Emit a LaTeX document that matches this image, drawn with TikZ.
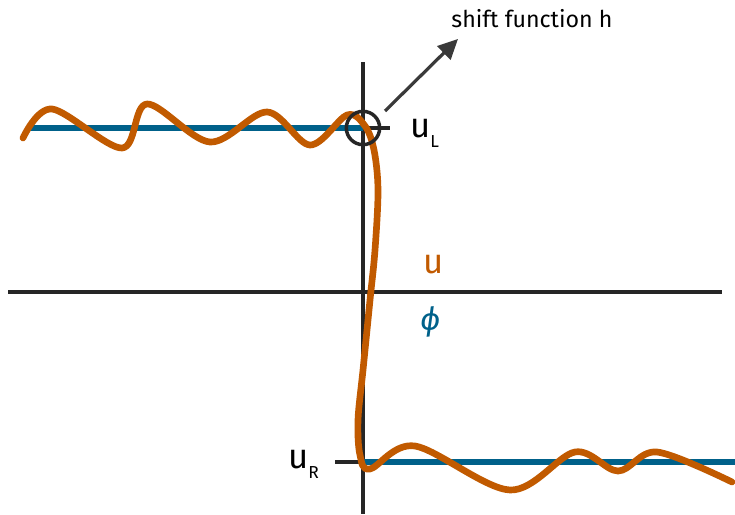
\documentclass[tikz,border=0pt]{standalone}
\usepackage{fontspec}
\setmainfont{Fira Sans}
\usetikzlibrary{arrows.meta, positioning}
\definecolor{waveorange}{HTML}{C15A00}
\definecolor{levelblue}{HTML}{00618A}
\definecolor{axisgray}{HTML}{262626}
\definecolor{arrowgray}{HTML}{3A3A3A}

\begin{document}
\begin{tikzpicture}[
  x=0.75pt, y=-0.75pt,
  axis/.style={draw=axisgray, line width=2.6pt},
  level/.style={draw=levelblue, line width=4.8pt},
  wave/.style={draw=waveorange, line width=5pt, line cap=round, line join=round},
  lbl/.style={font=\fontsize{26}{30}\selectfont, inner sep=0pt, anchor=base west},
  marker/.style={circle, draw=axisgray, line width=2.6pt, minimum size=25pt, inner sep=0pt},
]
  \useasboundingbox (0,0) rectangle (735,514);

  % axes
  \coordinate (xl) at (8,292);
  \coordinate (xr) at (722,292);
  \coordinate (yt) at (363,62);
  \coordinate (yb) at (363,514);
  \draw[axis] (xl) -- (xr);
  \draw[axis] (yt) -- (yb);

  % left and right states
  \coordinate (lstart) at (27,128);
  \coordinate (lend) at (363,128);
  \coordinate (rstart) at (363,462);
  \coordinate (rend) at (735,462);
  \draw[level] (lstart) -- (lend);
  \draw[level] (rstart) -- (rend);

  % ticks
  \coordinate (ltick) at (390,128);
  \coordinate (rtick) at (335,462);
  \draw[axis] (lend) -- (ltick);
  \draw[axis] (rtick) -- (rstart);

  % the perturbed profile
  \draw[wave] plot[smooth, tension=0.55] coordinates {
    (23,138) (52,109) (122,148) (147,104) (210,142) (267,112) (310,145)
    (347,115) (365,126) (374,150) (378,190) (375,250) (370,300) (363,370)
    (358,420) (360,455) (370,469) (415,446) (510,490) (575,452) (618,471)
    (657,452) (732,482)};

  % shift marker
  \node[marker] (hL) at (363,128) {};
  \coordinate (hstart) at (385,111);
  \coordinate (htip) at (458,39);
  \draw[arrowgray, line width=2.4pt, -{Triangle[length=15pt, width=14pt]}] (hstart) -- (htip);
  \node[font=\fontsize{17.4}{20}\selectfont, anchor=base] (shift) at (532,27) {shift function h};

  % labels
  \node[lbl] (uL) at (410,137) {u\raisebox{-7.5pt}{\fontsize{13}{15}\selectfont L}};
  \node[lbl] (uR) at (288,468) {u\raisebox{-7.5pt}{\fontsize{13}{15}\selectfont R}};
  \node[lbl, text=waveorange] (u) at (423,273) {u};
  \node[lbl, text=levelblue, font=\fontsize{24}{28}\selectfont\itshape] (phi) at (420,330) {ϕ};
\end{tikzpicture}
\end{document}
